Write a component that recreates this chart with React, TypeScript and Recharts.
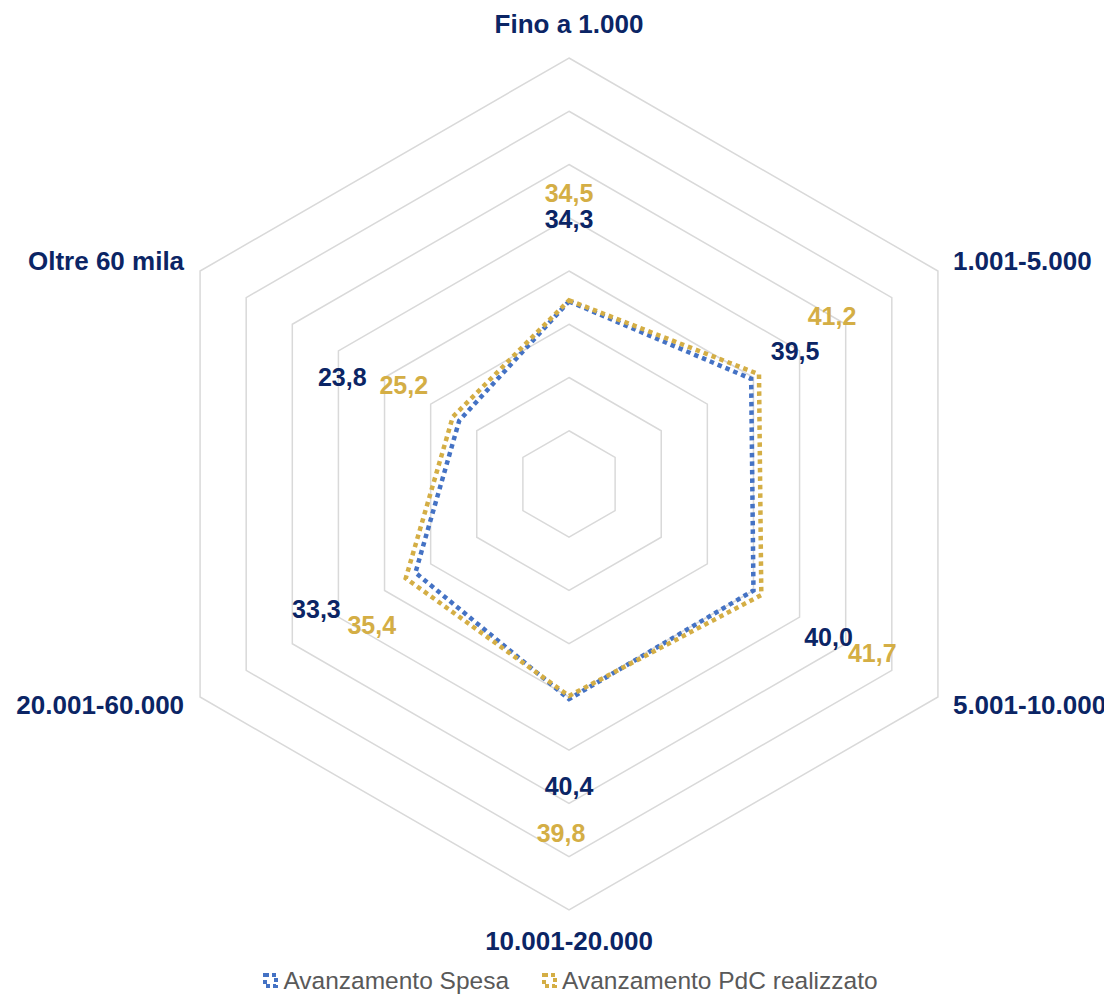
import React from "react"
import {
  Legend,
  PolarAngleAxis,
  PolarGrid,
  PolarRadiusAxis,
  Radar,
  RadarChart,
} from "recharts"

const categorie = [
  "Fino a 1.000",
  "1.001-5.000",
  "5.001-10.000",
  "10.001-20.000",
  "20.001-60.000",
  "Oltre 60 mila",
]
const avanzamentoSpesa = [34.3, 39.5, 40.0, 40.4, 33.3, 23.8]
const avanzamentoPdC = [34.5, 41.2, 41.7, 39.8, 35.4, 25.2]

const data = categorie.map((name, i) => ({
  name,
  spesa: avanzamentoSpesa[i],
  pdc: avanzamentoPdC[i],
}))

const NAVY = "#0B2565"
const BLUE = "#4472C4"
const GOLD = "#D4AE45"
const FONT = "'Liberation Sans', Arial, sans-serif"

const W = 1104
const H = 989
const CX = 561
const CY = 476
const R = 426

// Excel-style label placement (pixel offset from each point)
const offsetSpesa = [
  [0, -82],
  [44, -28],
  [75, 46],
  [0, 87],
  [-99, 36],
  [-117, -44],
]
const offsetPdC = [
  [0, -107],
  [73, -58],
  [111, 58],
  [-8, 137],
  [-34, 47],
  [-49, -32],
]

const fmt = (v: number) => v.toFixed(1).replace(".", ",")

const makeLabel = (values: number[], offsets: number[][], color: string) =>
  (props: any) => {
    const { cx, cy, index } = props
    const [dx, dy] = offsets[index]
    return (
      <text
        key={`lbl-${color}-${index}`}
        x={cx + dx}
        y={cy + dy}
        textAnchor="middle"
        dominantBaseline="central"
        fill={color}
        fontFamily={FONT}
        fontWeight="bold"
        fontSize={25}
      >
        {fmt(values[index])}
      </text>
    )
  }

const AngleTick = (props: any) => {
  const { payload } = props
  const a = (payload.coordinate * Math.PI) / 180
  const c = Math.cos(a)
  const s = Math.sin(a)
  const vx = CX + R * c
  const vy = CY - R * s
  let x = vx
  let y = vy
  let anchor: "start" | "middle" | "end" = "middle"
  if (Math.abs(c) < 0.1) {
    y = s > 0 ? vy - 34 : vy + 31
  } else {
    anchor = c > 0 ? "start" : "end"
    x = c > 0 ? vx + 15 : vx - 16
    y = s > 0 ? vy - 10 : vy + 8
  }
  return (
    <text
      x={x}
      y={y}
      textAnchor={anchor}
      dominantBaseline="central"
      fill={NAVY}
      fontFamily={FONT}
      fontWeight="bold"
      fontSize={26}
    >
      {payload.value}
    </text>
  )
}

const legendItems = [
  { label: "Avanzamento Spesa", color: BLUE },
  { label: "Avanzamento PdC realizzato", color: GOLD },
]

const LegendContent = () => (
  <div
    style={{
      display: "flex",
      justifyContent: "center",
      gap: 32,
      paddingLeft: 20,
      fontFamily: FONT,
      fontSize: 24.5,
      color: "#595959",
    }}
  >
    {legendItems.map((it) => (
      <div key={it.label} style={{ display: "flex", alignItems: "center" }}>
        <svg width={18} height={16} style={{ marginRight: 3 }}>
          <rect
            x={3}
            y={2}
            width={11}
            height={11}
            fill="none"
            stroke={it.color}
            strokeWidth={4}
            strokeDasharray="4 3"
          />
        </svg>
        <span>{it.label}</span>
      </div>
    ))}
  </div>
)

export default function App() {
  return (
    <RadarChart
      width={W}
      height={H}
      data={data}
      cx={CX}
      cy={CY}
      outerRadius={R}
      startAngle={90}
      endAngle={-270}
    >
      <PolarGrid gridType="polygon" radialLines={false} stroke="#D9D9D9" strokeWidth={1.5} />
      <PolarRadiusAxis domain={[0, 80]} tickCount={9} tick={false} axisLine={false} />
      <PolarAngleAxis dataKey="name" tick={<AngleTick />} tickLine={false} axisLine={false} />
      <Radar
        dataKey="spesa"
        name="Avanzamento Spesa"
        stroke={BLUE}
        strokeWidth={4.5}
        strokeDasharray="4.5 4"
        fill="none"
        fillOpacity={0}
        dot={makeLabel(avanzamentoSpesa, offsetSpesa, NAVY)}
        isAnimationActive={false}
      />
      <Radar
        dataKey="pdc"
        name="Avanzamento PdC realizzato"
        stroke={GOLD}
        strokeWidth={4.5}
        strokeDasharray="4.5 4"
        fill="none"
        fillOpacity={0}
        dot={makeLabel(avanzamentoPdC, offsetPdC, GOLD)}
        isAnimationActive={false}
      />
      <Legend
        content={<LegendContent />}
        wrapperStyle={{ position: "absolute", top: 959, left: 0, width: W }}
      />
    </RadarChart>
  )
}
